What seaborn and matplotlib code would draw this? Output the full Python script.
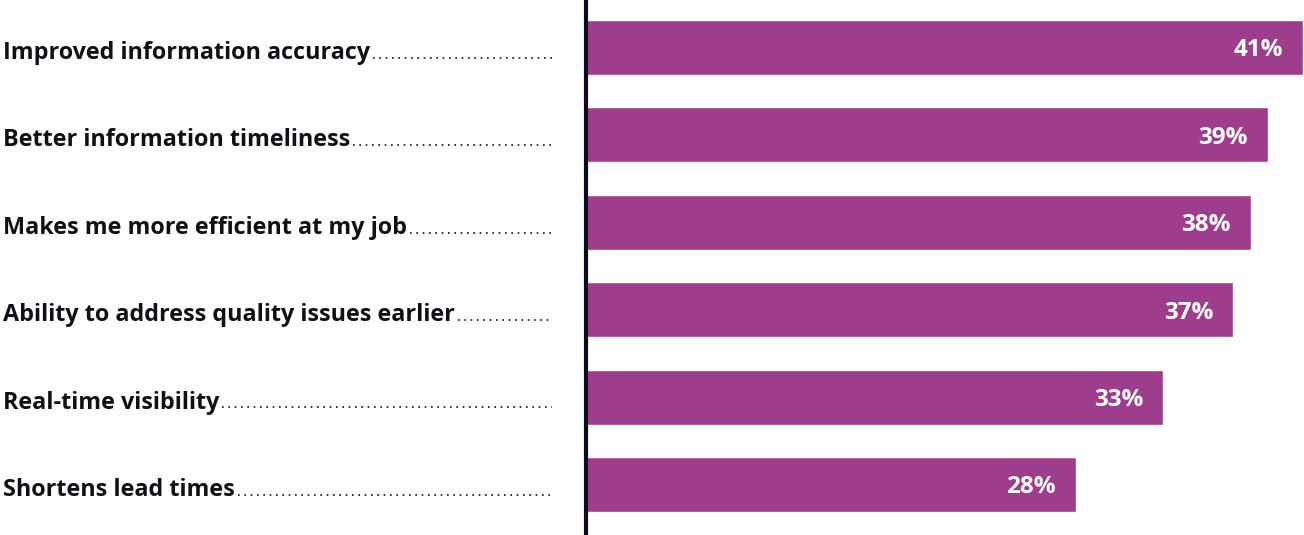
import matplotlib
matplotlib.use("Agg")
import matplotlib.pyplot as plt
from matplotlib.lines import Line2D
import seaborn as sns
import pandas as pd

benefits = [
    "Improved information accuracy",
    "Better information timeliness",
    "Makes me more efficient at my job",
    "Ability to address quality issues earlier",
    "Real-time visibility",
    "Shortens lead times",
]
shares = [41, 39, 38, 37, 33, 28]
value_labels = ["41%", "39%", "38%", "37%", "33%", "28%"]

BAR_COLOR = "#9E3D8C"
INK = "#111018"
FONT = ["Open Sans", "DejaVu Sans"]

sns.set_theme(style="white")
plt.rcParams["font.family"] = FONT

W, H = 1304, 535
fig = plt.figure(figsize=(W / 100, H / 100), dpi=100)
ax = fig.add_axes([586 / W, 2 / H, 718 / W, 531 / H])

df = pd.DataFrame({"benefit": benefits, "share": shares})
sns.barplot(data=df, y="benefit", x="share", orient="h", color=BAR_COLOR,
            saturation=1, width=0.63, ax=ax)

ax.set_xlim(0, 41 * 718 / 717)
ax.set_ylim(5.555, -0.52)
ax.set_xlabel("")
ax.set_ylabel("")
ax.set_xticks([])
ax.set_yticks([])
for side in ["top", "right", "bottom"]:
    ax.spines[side].set_visible(False)
ax.spines["left"].set_color("#0d0a1e")
ax.spines["left"].set_linewidth(3)

# value labels inside the bar ends
for i, (v, lab) in enumerate(zip(shares, value_labels)):
    ax.annotate(lab, xy=(v, i), xytext=(-20, -9), textcoords="offset pixels",
                ha="right", va="baseline", color="white", fontsize=17.5,
                fontweight="bold", family=FONT)

# category labels with dotted leaders running up to the axis
texts = []
for i, name in enumerate(benefits):
    y_base = ax.transData.transform((0, i))[1] - 11.5
    t = fig.text(3 / W, y_base / H, name, ha="left", va="baseline",
                 fontsize=16.8, fontweight="bold", color=INK, family=FONT,
                 transform=fig.transFigure)
    texts.append((t, y_base))

fig.canvas.draw()
renderer = fig.canvas.get_renderer()
for t, y_base in texts:
    bb = t.get_window_extent(renderer)
    y_dot = y_base + 1.2
    x0 = bb.x1 + 3
    x1 = 552
    fig.add_artist(Line2D([x0 / W, x1 / W], [y_dot / H, y_dot / H],
                          transform=fig.transFigure, color=INK, lw=1.2,
                          linestyle=(0, (1, 2.8)), solid_capstyle="butt",
                          dash_capstyle="butt"))

fig.savefig("out.png", dpi=100)
